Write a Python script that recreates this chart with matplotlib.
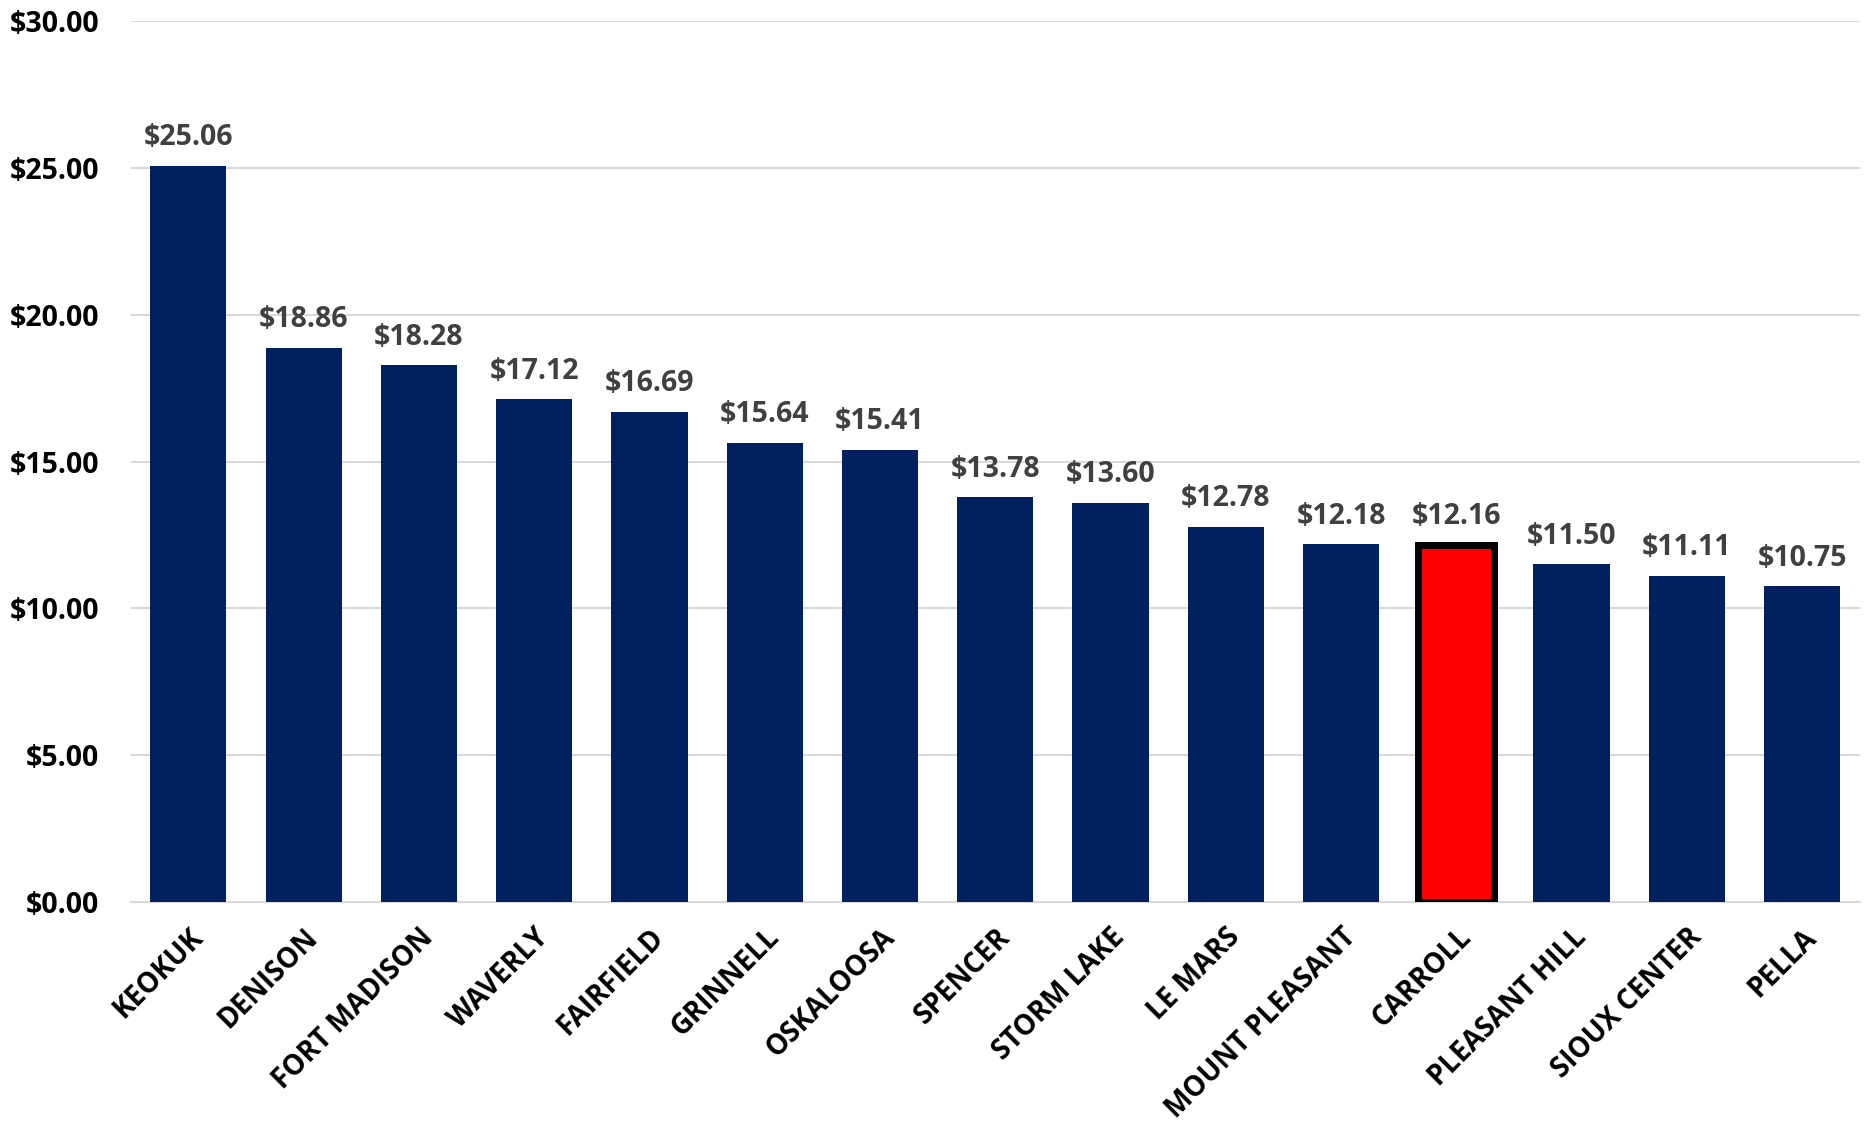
import numpy as np
import matplotlib
matplotlib.use('Agg')
import matplotlib.pyplot as plt
from matplotlib.ticker import FuncFormatter, MultipleLocator

# data
cities = ['KEOKUK', 'DENISON', 'FORT MADISON', 'WAVERLY', 'FAIRFIELD', 'GRINNELL',
          'OSKALOOSA', 'SPENCER', 'STORM LAKE', 'LE MARS', 'MOUNT PLEASANT',
          'CARROLL', 'PLEASANT HILL', 'SIOUX CENTER', 'PELLA']
rates = [25.06, 18.86, 18.28, 17.12, 16.69, 15.64, 15.41, 13.78, 13.60, 12.78,
         12.18, 12.16, 11.50, 11.11, 10.75]
highlight = 'CARROLL'

plt.rcParams['font.family'] = ['Open Sans', 'DejaVu Sans']
plt.rcParams['font.weight'] = 'bold'

navy, red, grid_col = '#002060', '#FF0000', '#D9D9D9'

fig = plt.figure(figsize=(18.69, 11.24), dpi=100)
ax = fig.add_axes([0.070, 0.1975, 0.925, 0.7835])

x = np.arange(len(cities))
colors = [red if c == highlight else navy for c in cities]
bars = ax.bar(x, rates, width=0.66, color=colors, zorder=3)
for b, c in zip(bars, cities):
    if c == highlight:
        b.set_edgecolor('black')
        b.set_linewidth(5)

for xi, v in zip(x, rates):
    ax.annotate('${:.2f}'.format(v), (xi, v), xytext=(0, 10), textcoords='offset points',
                ha='center', va='bottom', fontsize=20.5, fontweight='bold', color='#404040')

ax.set_xlim(-0.5, len(cities) - 0.5)
ax.set_ylim(0, 30)
ax.yaxis.set_major_locator(MultipleLocator(5))
ax.yaxis.set_major_formatter(FuncFormatter(lambda v, p: '${:.2f}'.format(v)))
ax.grid(axis='y', color=grid_col, linewidth=1.5, zorder=0)
for s in ['top', 'right', 'left']:
    ax.spines[s].set_visible(False)
ax.spines['bottom'].set_color(grid_col)
ax.spines['bottom'].set_linewidth(1.5)
ax.tick_params(axis='y', length=0, pad=23, labelsize=20.5)
ax.tick_params(axis='x', length=0, pad=15, labelsize=20)
ax.set_xticks(x)
ax.set_xticklabels(cities, rotation=45, ha='right', rotation_mode='anchor')
for t in ax.get_yticklabels() + ax.get_xticklabels():
    t.set_fontweight('bold')

fig.savefig('out.png', dpi=100)
